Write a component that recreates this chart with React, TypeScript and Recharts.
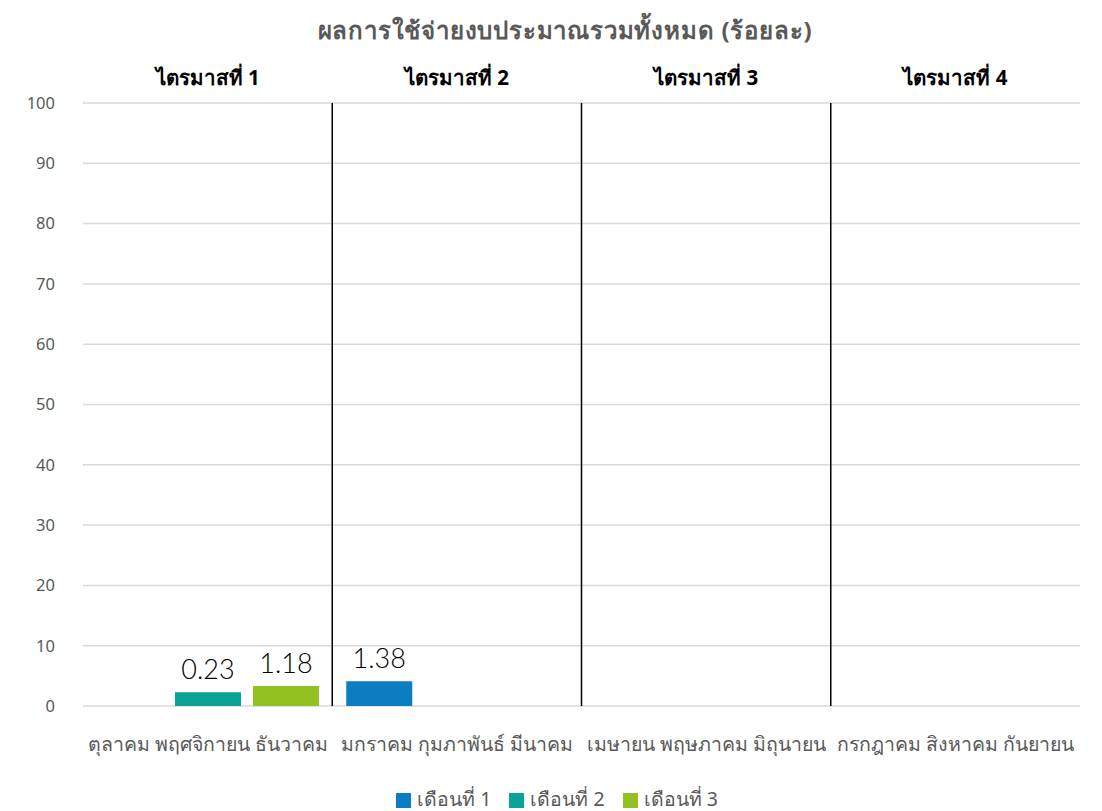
import React from "react";
import {
  BarChart,
  Bar,
  XAxis,
  YAxis,
  CartesianGrid,
  Legend,
  LabelList,
  ReferenceLine,
} from "recharts";

const title = "ผลการใช้จ่ายงบประมาณรวมทั้งหมด (ร้อยละ)";
const quarters = ["ไตรมาสที่ 1", "ไตรมาสที่ 2", "ไตรมาสที่ 3", "ไตรมาสที่ 4"];
const monthGroups = [
  "ตุลาคม พฤศจิกายน ธันวาคม",
  "มกราคม กุมภาพันธ์ มีนาคม",
  "เมษายน พฤษภาคม มิถุนายน",
  "กรกฎาคม สิงหาคม กันยายน",
];
const seriesNames = ["เดือนที่ 1", "เดือนที่ 2", "เดือนที่ 3"];
// bar heights as drawn in the picture
const month1Values = [null, 4.1, null, null];
const month2Values = [2.3, null, null, null];
const month3Values = [3.3, null, null, null];
// value labels as printed above the bars
const month1Labels = [null, "1.38", null, null];
const month2Labels = ["0.23", null, null, null];
const month3Labels = ["1.18", null, null, null];
const yTicks = [0, 10, 20, 30, 40, 50, 60, 70, 80, 90, 100];
const quarterBoundaries = [1, 2, 3];

const colors = ["#0B7EC2", "#0AA396", "#92C222"];
const FONT = "'Noto Sans', 'DejaVu Sans', sans-serif";

const data = quarters.map((q, i) => ({
  quarter: q,
  months: monthGroups[i],
  pos: i + 0.5,
  m1: month1Values[i],
  m2: month2Values[i],
  m3: month3Values[i],
  l1: month1Labels[i],
  l2: month2Labels[i],
  l3: month3Labels[i],
}));

const labelStyle = { fill: "#000", fontSize: 27, fontFamily: "Lato, 'Noto Sans', sans-serif", fontWeight: 300 };

export default function App() {
  return (
    <div style={{ position: "absolute", left: 0, top: 0, width: 1102, height: 811, fontFamily: FONT }}>
      <div
        style={{
          position: "absolute",
          top: 11,
          left: 0,
          width: 1130,
          textAlign: "center",
          fontSize: 24,
          letterSpacing: 0.8,
          fontWeight: "bold",
          color: "#595959",
          fontFamily: FONT,
        }}
      >
        {title}
      </div>
      <BarChart
        width={1102}
        height={811}
        data={data}
        margin={{ top: 55, right: 22, bottom: 0, left: 0 }}
        barGap={12}
        barSize={66}
        style={{ fontFamily: FONT }}
      >
        <CartesianGrid vertical={false} stroke="#d9d9d9" strokeWidth={1.5} />
        <XAxis
          xAxisId="cat"
          dataKey="months"
          axisLine={false}
          tickLine={false}
          height={74}
          tickMargin={25}
          interval={0}
          tick={{ fill: "#595959", fontSize: 19.5, fontFamily: FONT }}
        />
        <XAxis
          xAxisId="q"
          dataKey="quarter"
          orientation="top"
          axisLine={false}
          tickLine={false}
          height={48}
          tickMargin={12}
          interval={0}
          tick={{ fill: "#000000", fontSize: 20.5, fontWeight: "bold", fontFamily: FONT }}
        />
        <XAxis xAxisId="n" dataKey="pos" type="number" domain={[0, 4]} allowDataOverflow hide />
        <YAxis
          domain={[0, 100]}
          ticks={yTicks}
          width={83}
          axisLine={false}
          tickLine={false}
          tickMargin={22}
          tick={{ fill: "#595959", fontSize: 16.5, fontFamily: FONT }}
        />
        {quarterBoundaries.map((b) => (
          <ReferenceLine key={b} xAxisId="n" x={b} stroke="#000000" strokeWidth={1.5} />
        ))}
        <Legend
          verticalAlign="bottom"
          iconType="square"
          iconSize={15}
          wrapperStyle={{ fontSize: 19.5, fontFamily: FONT, color: "#595959", left: 26, bottom: -4 }}
          formatter={(v) => <span style={{ color: "#595959", paddingRight: 8, paddingLeft: 2 }}>{v}</span>}
        />
        <Bar xAxisId="cat" dataKey="m1" name={seriesNames[0]} fill={colors[0]} isAnimationActive={false}>
          <LabelList dataKey="l1" position="top" offset={13} {...labelStyle} />
        </Bar>
        <Bar xAxisId="cat" dataKey="m2" name={seriesNames[1]} fill={colors[1]} isAnimationActive={false}>
          <LabelList dataKey="l2" position="top" offset={13} {...labelStyle} />
        </Bar>
        <Bar xAxisId="cat" dataKey="m3" name={seriesNames[2]} fill={colors[2]} isAnimationActive={false}>
          <LabelList dataKey="l3" position="top" offset={13} {...labelStyle} />
        </Bar>
      </BarChart>
    </div>
  );
}
